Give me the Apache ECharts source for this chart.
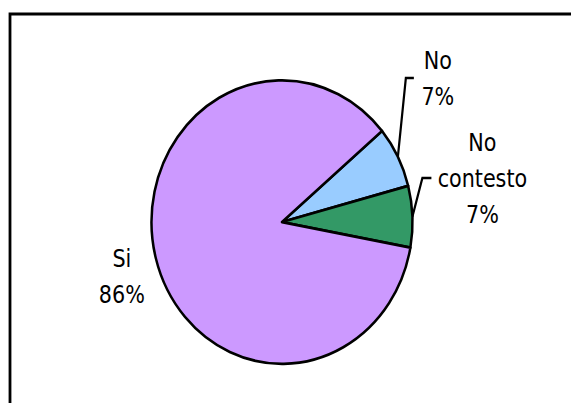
<!DOCTYPE html>
<html>
<head>
<meta charset="utf-8">
<title>Pie</title>
<script src="https://cdn.jsdelivr.net/npm/echarts@6/dist/echarts.min.js"></script>
<style>
  html, body { margin: 0; padding: 0; background: #fff; }
  body { width: 571px; height: 403px; overflow: hidden; }
  /* the source picture is stretched a bit vertically, so the pie is an ellipse */
  #main { width: 571px; height: 371px; transform: scaleY(1.0863); transform-origin: 0 0; }
</style>
</head>
<body>
<div id="main"></div>
<script>
  var categories = ['No', 'No contesto', 'Si'];
  var values = [7, 7, 86];
  var colors = ['#99CCFF', '#339966', '#CC99FF'];

  // where each label sits, relative to the point where its slice meets the rim
  var labelPlace = [
    { lx: 40, ly: -72, bend: [8, -72.5, 16] },
    { lx: 70, ly: -35, bend: [10, -35.5, 19] },
    { lx: -34, ly: 17, bend: null }
  ];

  var font = "'DejaVu Sans Condensed', 'DejaVu Sans', sans-serif";

  var pieData = categories.map(function (name, i) {
    var item = { name: name, value: values[i], itemStyle: { color: colors[i] } };
    if (!labelPlace[i].bend) item.labelLine = { lineStyle: { opacity: 0 } };
    return item;
  });

  var myChart = echarts.init(document.getElementById('main'), null, { renderer: 'svg' });
  myChart.setOption({
    animation: false,
    graphic: [{
      type: 'rect',
      shape: { x: 10, y: 12.9, width: 700, height: 500 },
      style: { fill: 'none', stroke: '#000', lineWidth: 2.8 },
      silent: true
    }],
    series: [{
      type: 'pie',
      center: [282, 204.4],
      radius: 130.5,
      startAngle: 40,
      clockwise: true,
      avoidLabelOverlap: false,
      emphasis: { disabled: true },
      itemStyle: { borderColor: '#000', borderWidth: 2.5 },
      label: {
        show: true,
        position: 'outside',
        color: '#000',
        fontFamily: font,
        fontSize: 23,
        lineHeight: 33,
        align: 'center',
        formatter: function (p) {
          return p.name.replace(' ', '\n') + '\n' + p.value + '%';
        }
      },
      labelLine: {
        show: true,
        length: 10,
        length2: 10,
        lineStyle: { color: '#000', width: 2.2 }
      },
      labelLayout: function (p) {
        var o = labelPlace[p.dataIndex];
        var s = p.labelLinePoints && p.labelLinePoints[0];
        if (!s) return {};
        var res = {
          x: s[0] + o.lx,
          y: s[1] + o.ly,
          align: 'center',
          verticalAlign: 'middle'
        };
        if (o.bend) {
          res.labelLinePoints = [
            [s[0], s[1]],
            [s[0] + o.bend[0], s[1] + o.bend[1]],
            [s[0] + o.bend[2], s[1] + o.bend[1]]
          ];
        }
        return res;
      },
      data: pieData
    }]
  });
</script>
</body>
</html>
